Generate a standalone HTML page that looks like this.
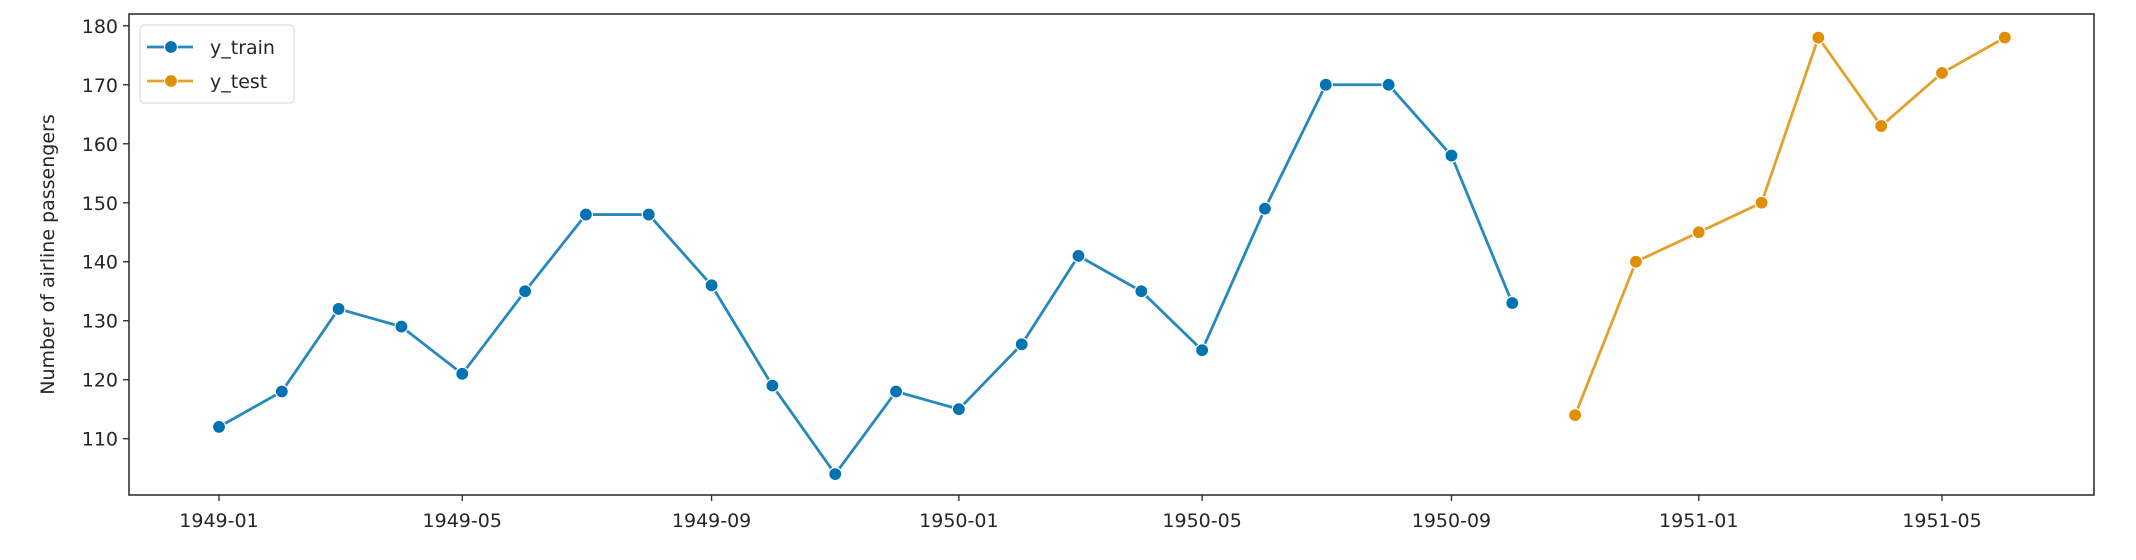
<!DOCTYPE html>
<html><head><meta charset="utf-8"><style>
html,body{margin:0;padding:0;background:#fff;}
svg{display:block;font-family:"DejaVu Sans","Liberation Sans",sans-serif;}
</style></head><body>
<svg id="chart" width="2136" height="560" viewBox="0 0 2136 560" xmlns="http://www.w3.org/2000/svg"></svg>
<script>
const trainDates = ["1949-01","1949-02","1949-03","1949-04","1949-05","1949-06","1949-07","1949-08","1949-09","1949-10","1949-11","1949-12","1950-01","1950-02","1950-03","1950-04","1950-05","1950-06","1950-07","1950-08","1950-09","1950-10"];
const trainValues = [112,118,132,129,121,135,148,148,136,119,104,118,115,126,141,135,125,149,170,170,158,133];
const testDates = ["1950-11","1950-12","1951-01","1951-02","1951-03","1951-04","1951-05","1951-06"];
const testValues = [114,140,145,150,178,163,172,178];
const yTicks = [110,120,130,140,150,160,170,180];
const xTicks = ["1949-01","1949-05","1949-09","1950-01","1950-05","1950-09","1951-01","1951-05"];

const NS="http://www.w3.org/2000/svg";
const svg=document.getElementById('chart');
const L=129,R=2094,T=14,B=495;
function days(s){const [y,m]=s.split('-').map(Number);return (Date.UTC(y,m-1,1)-Date.UTC(1949,0,1))/86400000;}
const d0=days("1949-01"),d1=days("1951-05"),px0=219,px1=1942;
function xs(s){return px0+(days(s)-d0)*(px1-px0)/(d1-d0);}
function ys(v){return 438.7+(v-110)*(25.8-438.7)/70;}
function mk(tag,attrs,parent){const e=document.createElementNS(NS,tag);for(const k in attrs)e.setAttribute(k,attrs[k]);(parent||svg).appendChild(e);return e;}

const frame=mk('rect',{x:L,y:T,width:R-L,height:B-T,fill:'none',stroke:'#333',"stroke-width":1.6});



const yAxis=mk('g',{});


yTicks.forEach(v=>{
  const y=ys(v);
  mk('line',{x1:L-6,x2:L,y1:y,y2:y,stroke:'#333',"stroke-width":1.4},yAxis);
  const t=mk('text',{x:L-11,y:y+7,"text-anchor":"end","font-size":19,fill:'#262626'},yAxis);
  t.textContent=v;
  
  
});
const xAxis=mk('g',{});


xTicks.forEach(s=>{
  const x=xs(s);
  mk('line',{x1:x,x2:x,y1:B,y2:B+6,stroke:'#333',"stroke-width":1.4},xAxis);
  const t=mk('text',{x:x,y:527,"text-anchor":"middle","font-size":19,fill:'#262626'},xAxis);
  t.textContent=s;
  
  
});
const yl=mk('text',{x:0,y:0,transform:`translate(54,${(T+B)/2}) rotate(-90)`,"text-anchor":"middle","font-size":19,fill:'#262626'});
yl.textContent="Number of airline passengers";



function series(dates,vals,color,name){
  const g=mk('g',{});
  
  
  mk('polyline',{points:dates.map((d,i)=>xs(d)+','+ys(vals[i])).join(' '),fill:'none',stroke:color,"stroke-width":2.8,"stroke-opacity":0.85},g);
  dates.forEach((d,i)=>{
    const c=mk('circle',{cx:xs(d),cy:ys(vals[i]),r:6.5,fill:color,stroke:'#fff',"stroke-width":1.2},g);
    
    
  });
}
series(trainDates,trainValues,'#0173b2','y-train-series');
series(testDates,testValues,'#de8f05','y-test-series');

const lg=mk('g',{});


mk('rect',{x:140,y:25,width:154,height:78,rx:4,fill:'#fff',"fill-opacity":0.8,stroke:'#ddd',"stroke-width":1.2},lg);
[['y_train','#0173b2',47],['y_test','#de8f05',81]].forEach(([lab,col,y])=>{
  const e=mk('g',{},lg);
  
  
  mk('line',{x1:147,x2:193,y1:y,y2:y,stroke:col,"stroke-width":2.8,"stroke-opacity":0.85},e);
  mk('circle',{cx:171,cy:y,r:6.5,fill:col,stroke:'#fff',"stroke-width":1.2},e);
  const t=mk('text',{x:210,y:y+7,"font-size":19,fill:'#262626'},e);
  t.textContent=lab;
});
</script>
</body></html>
